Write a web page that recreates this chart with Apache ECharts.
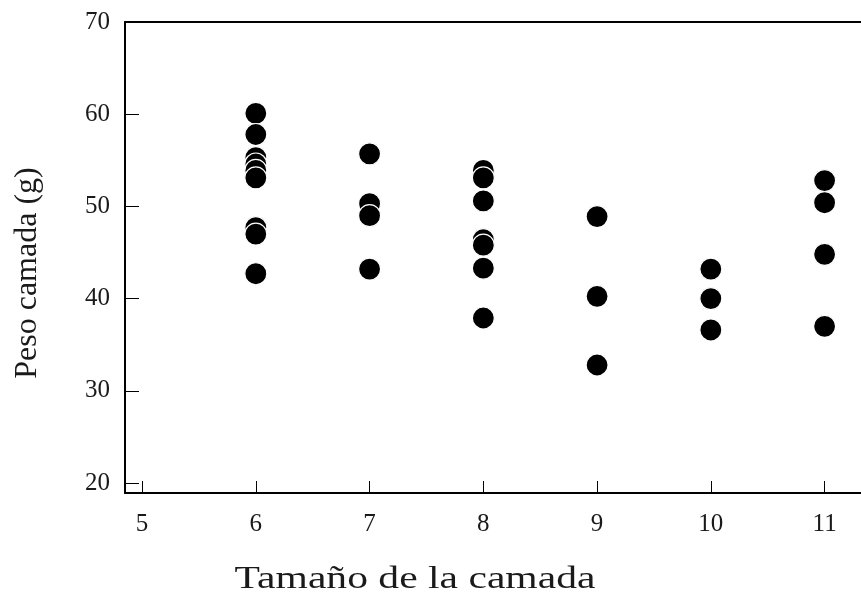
<!DOCTYPE html>
<html>
<head>
<meta charset="utf-8">
<script src="https://cdn.jsdelivr.net/npm/echarts@6/dist/echarts.min.js"></script>
<style>
  html, body { margin: 0; padding: 0; background: #fff; }
  #chart { width: 861px; height: 595px; }
</style>
</head>
<body>
<div id="chart"></div>
<script>
// Litter size (x) and litter weight in grams (y)
const litterSizes = [6, 7, 8, 9, 10, 11];
const weights6  = [60.1, 57.8, 55.3, 54.6, 53.9, 53.1, 47.7, 47.0, 42.7];
const weights7  = [55.7, 50.3, 49.0, 43.2];
const weights8  = [53.9, 53.1, 50.6, 46.4, 45.8, 43.3, 37.9];
const weights9  = [48.9, 40.25, 32.8];
const weights10 = [43.2, 40.0, 36.6];
const weights11 = [52.8, 50.4, 44.8, 37.0];
const xTicks = [5, 6, 7, 8, 9, 10, 11];
const yTicks = [20, 30, 40, 50, 60, 70];

const groups = [weights6, weights7, weights8, weights9, weights10, weights11];
const points = [];
groups.forEach((ws, i) => ws.forEach(w => points.push([litterSizes[i], w])));

const serif = '"Liberation Serif", "Times New Roman", serif';
const ink = '#1a1a1a';

const chart = echarts.init(document.getElementById('chart'), null, { renderer: 'canvas' });
chart.setOption({
  animation: false,
  backgroundColor: '#fff',
  grid: { left: 125, right: 0, top: 22, bottom: 102, containLabel: false },
  xAxis: [{
    type: 'value',
    min: 4.85, max: 11.32,
    axisLine: { show: true, lineStyle: { color: '#000', width: 2 } },
    axisTick: { show: true, inside: true, length: 12, customValues: xTicks,
                lineStyle: { color: '#000', width: 1 } },
    axisLabel: { show: true, customValues: xTicks, margin: 19,
                 fontFamily: serif, fontSize: 25, color: ink },
    splitLine: { show: false }
  }, {
    // upper frame line
    type: 'value', position: 'top',
    min: 4.85, max: 11.32,
    axisLine: { show: true, onZero: false, lineStyle: { color: '#000', width: 2 } },
    axisTick: { show: false }, axisLabel: { show: false }, splitLine: { show: false }
  }],
  yAxis: {
    type: 'value',
    min: 18.92, max: 70,
    axisLine: { show: true, lineStyle: { color: '#000', width: 2 } },
    axisTick: { show: true, inside: true, length: 14, customValues: yTicks,
                lineStyle: { color: '#000', width: 1 } },
    axisLabel: { show: true, customValues: yTicks, margin: 15,
                 fontFamily: serif, fontSize: 25, color: ink },
    splitLine: { show: false }
  },
  graphic: [{
    type: 'text', x: 415, y: 580, scaleX: 1.3,
    style: { text: 'Tamaño de la camada', font: '32px ' + serif, fill: ink,
             textAlign: 'center', textVerticalAlign: 'middle' }
  }, {
    type: 'text', x: 28, y: 273, rotation: Math.PI / 2,
    style: { text: 'Peso camada (g)', font: '32px ' + serif, fill: ink,
             textAlign: 'center', textVerticalAlign: 'middle' }
  }],
  series: [{
    type: 'scatter',
    data: points,
    symbol: 'circle',
    symbolSize: 22,
    itemStyle: { color: '#000', borderColor: '#fff', borderWidth: 1.2, opacity: 1 }
  }]
});
</script>
</body>
</html>
